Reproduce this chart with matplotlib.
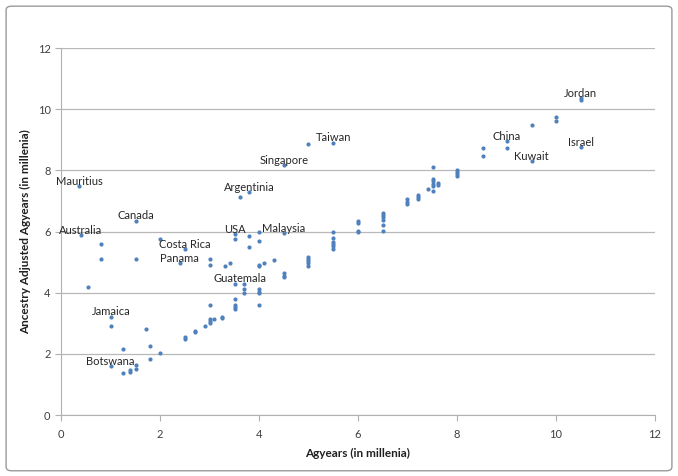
import numpy as np
import matplotlib.pyplot as plt
from matplotlib.patches import FancyBboxPatch

plt.rcParams['font.family'] = ['Lato', 'DejaVu Sans']

# agyears (x) and ancestry adjusted agyears (y), in millenia
agyears = [0.37, 0.40, 0.55, 0.81, 0.81, 1.01, 1.01, 1.00, 1.26, 1.26,
           1.40, 1.40, 1.52, 1.52, 1.52, 1.52, 1.72, 1.80, 1.80, 2.00,
           2.00, 2.40, 2.50, 2.50, 2.50, 2.70, 2.70, 2.90, 3.00, 3.00,
           3.00, 3.00, 3.00, 3.00, 3.10, 3.25, 3.25, 3.31, 3.41, 3.51,
           3.51, 3.51, 3.51, 3.51, 3.51, 3.51, 3.61, 3.70, 3.70, 3.70,
           3.80, 3.80, 3.80, 4.00, 4.00, 4.00, 4.00, 4.00, 4.00, 4.00,
           4.00, 4.10, 4.30, 4.50, 4.50, 4.50, 4.50, 4.50, 5.00, 5.00,
           5.00, 5.00, 5.00, 5.00, 5.50, 5.50, 5.50, 5.50, 5.50, 5.50,
           5.50, 6.00, 6.00, 6.00, 6.00, 6.50, 6.50, 6.50, 6.50, 6.50,
           6.50, 7.00, 7.00, 7.00, 7.21, 7.21, 7.21, 7.41, 7.51, 7.51,
           7.51, 7.51, 7.51, 7.51, 7.61, 7.61, 8.00, 8.00, 8.00, 8.00,
           8.52, 8.52, 9.01, 9.01, 9.51, 9.51, 10.0, 10.0, 10.5, 10.5,
           10.5]
adjusted = [7.48, 5.88, 4.18, 5.61, 5.09, 3.22, 2.90, 1.59, 2.15, 1.37,
            1.48, 1.42, 1.63, 1.52, 6.36, 5.09, 2.80, 2.25, 1.82, 2.04,
            5.75, 4.97, 5.43, 2.54, 2.50, 2.74, 2.70, 2.91, 3.59, 3.15,
            3.08, 3.02, 5.10, 4.91, 3.13, 3.21, 3.16, 4.88, 4.98, 5.92,
            5.76, 4.30, 3.80, 3.59, 3.54, 3.48, 7.13, 4.27, 4.12, 3.99,
            7.29, 5.86, 5.51, 6.00, 5.70, 4.91, 4.87, 4.11, 4.03, 3.98,
            3.61, 4.98, 5.06, 8.18, 5.95, 4.63, 4.55, 4.50, 8.86, 5.18,
            5.11, 5.05, 4.97, 4.87, 8.91, 5.98, 5.79, 5.67, 5.59, 5.52,
            5.44, 6.36, 6.28, 6.03, 5.97, 6.61, 6.53, 6.47, 6.39, 6.20,
            6.03, 7.05, 6.97, 6.89, 7.20, 7.13, 7.05, 7.38, 8.12, 7.73,
            7.64, 7.57, 7.49, 7.32, 7.60, 7.53, 8.02, 7.94, 7.87, 7.82,
            8.72, 8.47, 8.96, 8.74, 9.48, 8.31, 9.76, 9.62, 10.36, 10.30,
            8.75]

labels = ['Mauritius', 'Australia', 'Canada', 'Jamaica', 'Botswana', 'Costa Rica',
          'Panama', 'USA', 'Argentinia', 'Guatemala', 'Malaysia', 'Singapore',
          'Taiwan', 'China', 'Kuwait', 'Jordan', 'Israel']
label_x = [0.37, 0.40, 1.52, 1.01, 1.00, 2.50, 2.40, 3.51, 3.80, 3.61, 4.50, 4.50,
           5.50, 9.01, 9.51, 10.5, 10.5]
label_y = [7.48, 5.88, 6.36, 3.22, 1.59, 5.43, 4.97, 5.92, 7.29, 4.30, 5.95, 8.18,
           8.91, 8.96, 8.31, 10.36, 8.75]

xticks = [0, 2, 4, 6, 8, 10, 12]
yticks = [0, 2, 4, 6, 8, 10, 12]

fig = plt.figure(figsize=(6.78, 4.76), dpi=100)
ax = fig.add_axes([0.09, 0.128, 0.876, 0.771])

# chart border
fig.patches.append(FancyBboxPatch((0.009, 0.011), 0.982, 0.976, boxstyle='round,pad=0,rounding_size=0.008',
                                  transform=fig.transFigure, fill=False, edgecolor='#9a9a9a', linewidth=1))

ax.scatter(agyears, adjusted, s=9, color='#4F81BD', zorder=3, linewidths=0)

for name, lx, ly in zip(labels, label_x, label_y):
    ax.annotate(name, (lx, ly), xytext=(0, 3.5), textcoords='offset points',
                ha='center', va='center', fontsize=8, color='#262626', zorder=4)

ax.set_xlim(0, 12)
ax.set_ylim(0, 12)
ax.set_xticks(xticks)
ax.set_yticks(yticks)
ax.yaxis.grid(True, color='#b8b8b8', linewidth=0.9)
ax.set_axisbelow(True)
for s in ['top', 'right']:
    ax.spines[s].set_visible(False)
for s in ['left', 'bottom']:
    ax.spines[s].set_color('#b0b0b0')
ax.tick_params(colors='#b0b0b0', labelcolor='#404040', labelsize=8, length=4, width=0.8)
ax.tick_params(axis='x', pad=6)

ax.set_xlabel('Agyears (in millenia)', fontsize=8.5, fontweight='bold', color='#202020', labelpad=6)
ax.set_ylabel('Ancestry Adjusted Agyears (in millenia)', fontsize=8.5, fontweight='bold', color='#202020', labelpad=5)

fig.savefig('out.png', dpi=100)
